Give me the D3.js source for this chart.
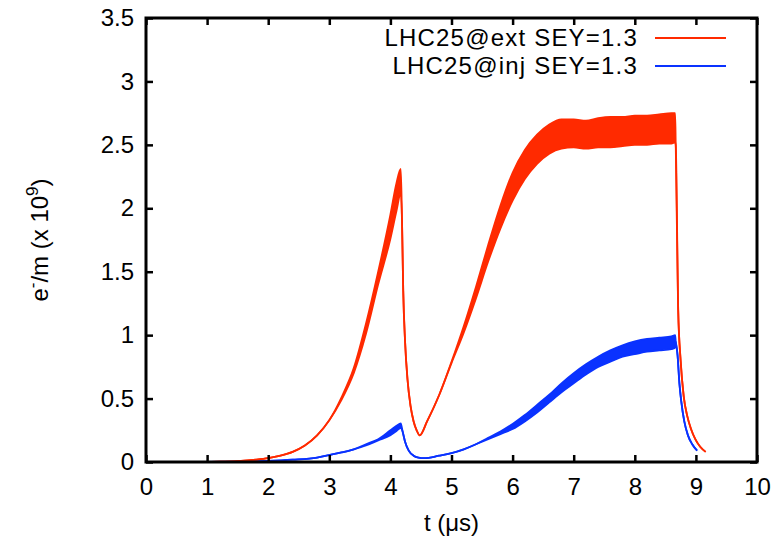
<!DOCTYPE html>
<html>
<head>
<meta charset="utf-8">
<script src="https://cdn.jsdelivr.net/npm/d3@7"></script>
<style>
  html, body { margin: 0; padding: 0; background: #fff; }
  svg { display: block; font-family: "Liberation Sans", Arial, Helvetica, sans-serif; }
</style>
</head>
<body>
<svg id="chart" width="779" height="543"></svg>
<script>
// Electron line density e-/m (x 10^9) versus time t (µs).
// Each series is stored as time samples with lower / upper envelope of the
// fast oscillation (equal where the trace is a single thin line).

const xTicks = [0, 1, 2, 3, 4, 5, 6, 7, 8, 9, 10];
const yTicks = [0, 0.5, 1, 1.5, 2, 2.5, 3, 3.5];

const seriesNames = ["LHC25@ext SEY=1.3", "LHC25@inj SEY=1.3"];
const seriesColors = ["#ff2a00", "#0a32ff"];

// LHC25@ext
const extT  = [0.9, 1.2, 1.5, 1.8, 2.0, 2.2, 2.4, 2.6, 2.8, 3.0, 3.2, 3.4, 3.6, 3.8, 4.0, 4.1, 4.17,
               4.19, 4.21, 4.24, 4.28, 4.33, 4.38, 4.43, 4.48, 4.6, 4.8, 5.0, 5.2, 5.4, 5.6, 5.8,
               6.0, 6.2, 6.4, 6.6, 6.8, 7.0, 7.2, 7.4, 7.6, 7.8, 8.0, 8.2, 8.4, 8.6, 8.66,
               8.67, 8.71, 8.75, 8.80, 8.86, 8.92, 8.99, 9.07, 9.16];
const extLo = [0, 0.002, 0.007, 0.018, 0.03, 0.05, 0.08, 0.13, 0.21, 0.33, 0.49, 0.70, 1.01, 1.40, 1.76, 1.98, 2.12,
               1.9, 1.35, 0.95, 0.65, 0.44, 0.32, 0.25, 0.21, 0.32, 0.53, 0.78, 1.02, 1.29, 1.58, 1.84,
               2.06, 2.23, 2.35, 2.43, 2.47, 2.48, 2.47, 2.48, 2.48, 2.49, 2.50, 2.50, 2.51, 2.51, 2.52,
               2.50, 1.20, 0.80, 0.52, 0.36, 0.26, 0.18, 0.12, 0.08];
const extHi = [0, 0.002, 0.007, 0.018, 0.03, 0.05, 0.08, 0.13, 0.21, 0.33, 0.51, 0.74, 1.09, 1.50, 1.95, 2.20, 2.31,
               1.9, 1.35, 0.95, 0.65, 0.44, 0.32, 0.25, 0.21, 0.32, 0.53, 0.79, 1.07, 1.38, 1.71, 2.02,
               2.28, 2.46, 2.58, 2.66, 2.70, 2.70, 2.69, 2.71, 2.72, 2.72, 2.73, 2.73, 2.74, 2.75, 2.75,
               2.50, 1.20, 0.80, 0.52, 0.36, 0.26, 0.18, 0.12, 0.08];

// LHC25@inj
const injT  = [1.0, 1.5, 2.0, 2.4, 2.8, 3.0, 3.2, 3.4, 3.6, 3.8, 4.0, 4.1, 4.17,
               4.20, 4.24, 4.30, 4.38, 4.46, 4.55, 4.8, 5.0, 5.2, 5.4, 5.6, 5.8,
               6.0, 6.2, 6.4, 6.6, 6.8, 7.0, 7.2, 7.4, 7.6, 7.8, 8.0, 8.2, 8.4, 8.6, 8.66,
               8.67, 8.70, 8.73, 8.76, 8.81, 8.87, 8.94, 9.02];
const injLo = [0, 0.002, 0.008, 0.018, 0.035, 0.055, 0.075, 0.10, 0.13, 0.17, 0.21, 0.245, 0.27,
               0.24, 0.16, 0.09, 0.05, 0.035, 0.03, 0.05, 0.07, 0.10, 0.14, 0.18, 0.22,
               0.26, 0.32, 0.39, 0.47, 0.55, 0.62, 0.69, 0.75, 0.79, 0.83, 0.85, 0.87, 0.88, 0.89, 0.90,
               0.95, 0.84, 0.62, 0.48, 0.32, 0.21, 0.14, 0.09];
const injHi = [0, 0.002, 0.008, 0.018, 0.035, 0.055, 0.075, 0.10, 0.14, 0.18, 0.25, 0.285, 0.305,
               0.24, 0.16, 0.09, 0.05, 0.035, 0.03, 0.05, 0.07, 0.10, 0.14, 0.19, 0.24,
               0.30, 0.37, 0.45, 0.53, 0.62, 0.70, 0.77, 0.83, 0.88, 0.92, 0.95, 0.97, 0.98, 0.99, 1.00,
               0.95, 0.84, 0.62, 0.48, 0.32, 0.21, 0.14, 0.09];

const svg = d3.select("#chart");
const plotLeft = 146, plotRight = 757, plotTop = 18, plotBottom = 462;

const x = d3.scaleLinear().domain([0, 10]).range([plotLeft, plotRight]);
const y = d3.scaleLinear().domain([0, 3.5]).range([plotBottom, plotTop]);

const fontSize = 24;

// curves
function band(ts, lo, hi) {
  return ts.map((t, i) => ({ t, lo: lo[i], hi: hi[i] }));
}
const curves = [band(extT, extLo, extHi), band(injT, injLo, injHi)];

const smooth = d3.curveMonotoneX;
const area = d3.area()
  .curve(smooth)
  .x(d => x(d.t))
  .y0(d => y(d.lo))
  .y1(d => y(d.hi));
const lineLo = d3.line().curve(smooth).x(d => x(d.t)).y(d => y(d.lo));
const lineHi = d3.line().curve(smooth).x(d => x(d.t)).y(d => y(d.hi));

// draw inj first so ext sits on top where they meet
[1, 0].forEach(k => {
  const g = svg.append("g");
  g.append("path").datum(curves[k])
    .attr("d", area).attr("fill", seriesColors[k]).attr("stroke", "none");
  g.append("path").datum(curves[k])
    .attr("d", lineLo).attr("fill", "none").attr("stroke", seriesColors[k])
    .attr("stroke-width", 1.8).attr("stroke-linejoin", "round");
  g.append("path").datum(curves[k])
    .attr("d", lineHi).attr("fill", "none").attr("stroke", seriesColors[k])
    .attr("stroke-width", 1.8).attr("stroke-linejoin", "round");
});

// axes: ticks inward, mirrored on top and right
const tickLen = 7;
const axisStyle = g => {
  g.select(".domain").remove();
  g.selectAll(".tick line").attr("stroke", "#000").attr("stroke-width", 2.5);
  g.selectAll(".tick text").attr("fill", "#000").attr("font-size", fontSize)
    .attr("font-family", "'Liberation Sans', Arial, sans-serif");
};

svg.append("g").attr("transform", `translate(0,${plotBottom})`)
  .call(d3.axisBottom(x).tickValues(xTicks).tickSize(-tickLen).tickPadding(16).tickFormat(d3.format("d")))
  .call(axisStyle);
svg.append("g").attr("transform", `translate(0,${plotTop})`)
  .call(d3.axisTop(x).tickValues(xTicks).tickSize(-tickLen).tickFormat(""))
  .call(axisStyle);
svg.append("g").attr("transform", `translate(${plotLeft},0)`)
  .call(d3.axisLeft(y).tickValues(yTicks).tickSize(-tickLen).tickPadding(12).tickFormat(d => String(d)))
  .call(axisStyle);
svg.append("g").attr("transform", `translate(${plotRight},0)`)
  .call(d3.axisRight(y).tickValues(yTicks).tickSize(-tickLen).tickFormat(""))
  .call(axisStyle);

// frame
svg.append("rect")
  .attr("x", plotLeft).attr("y", plotTop)
  .attr("width", plotRight - plotLeft).attr("height", plotBottom - plotTop)
  .attr("fill", "none").attr("stroke", "#000").attr("stroke-width", 3);

// axis titles
svg.append("text")
  .attr("x", (plotLeft + plotRight) / 2).attr("y", 531)
  .attr("text-anchor", "middle").attr("font-size", fontSize)
  .text("t (\u03bcs)");

const yTitle = svg.append("text")
  .attr("transform", `translate(48,${(plotTop + plotBottom) / 2}) rotate(-90)`)
  .attr("text-anchor", "middle").attr("font-size", fontSize);
yTitle.append("tspan").text("e");
yTitle.append("tspan").attr("dy", -10).attr("font-size", 17).text("-");
yTitle.append("tspan").attr("dy", 10).text("/m (x 10");
yTitle.append("tspan").attr("dy", -10).attr("font-size", 17).text("9");
yTitle.append("tspan").attr("dy", 10).text(")");

// legend
const legend = svg.append("g");
seriesNames.forEach((name, i) => {
  const ly = 38 + i * 28;
  legend.append("text")
    .attr("x", 638).attr("y", ly).attr("dy", "0.35em")
    .attr("text-anchor", "end").attr("font-size", 24)
    .attr("letter-spacing", 1.2)
    .text(name);
  legend.append("line")
    .attr("x1", 655).attr("x2", 726).attr("y1", ly).attr("y2", ly)
    .attr("stroke", seriesColors[i]).attr("stroke-width", 2);
});
</script>
</body>
</html>
